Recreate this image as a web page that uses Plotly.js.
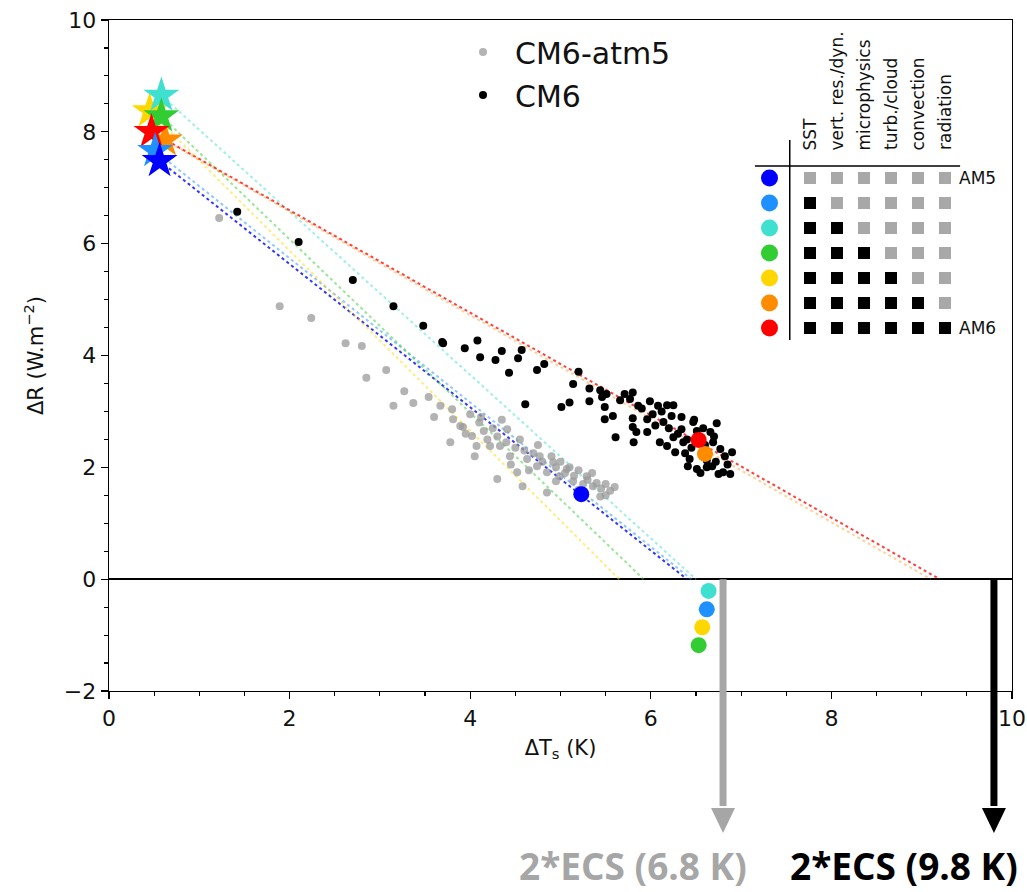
<!DOCTYPE html>
<html><head><meta charset="utf-8">
<script src="https://cdn.plot.ly/plotly-3.0.1.min.js"></script>
<style>html,body{margin:0;padding:0;background:#fff}</style>
</head><body><div id="chart" style="width:1027px;height:892px"></div>
<script>
// ---------- data ----------
const configColors = ['#0000ff','#1e90ff','#40e0d0','#32cd32','#ffd700','#ff8c00','#ff0000'];
const columnLabels = ['SST','vert. res./dyn.','microphysics','turb./cloud','convection','radiation'];
const switchMatrix = [
  [0,0,0,0,0,0],
  [1,0,0,0,0,0],
  [1,1,0,0,0,0],
  [1,1,1,0,0,0],
  [1,1,1,1,0,0],
  [1,1,1,1,1,0],
  [1,1,1,1,1,1]
];
const rowEndLabels = ['AM5','','','','','','AM6'];
// first-year stars (ΔTs, ΔR)
const starX = [0.56, 0.51, 0.58, 0.58, 0.45, 0.62, 0.47];
const starY = [7.48, 7.66, 8.65, 8.28, 8.37, 7.85, 8.00];
// end-of-run dots
const endX = [5.23, 6.62, 6.64, 6.53, 6.57, 6.60, 6.53];
const endY = [1.52, -0.54, -0.21, -1.18, -0.86, 2.24, 2.49];
// regression x-intercepts (ΔR = 0)
const interceptX = [6.40, 6.45, 6.50, 5.92, 5.65, 9.10, 9.20];
const lineOpacity = [0.8, 0.5, 0.5, 0.5, 0.5, 0.4, 0.75];
const starDrawOrder = [5, 4, 2, 3, 6, 1, 0];
// CM6-atm5 annual means
const atm5X = [1.22,1.89,2.24,2.62,2.80,3.07,2.85,3.27,3.15,3.37,3.54,3.67,3.80,3.92,3.78,4.02,4.05,4.22,4.30,3.81,3.89,4.07,4.19,4.33,4.41,4.44,4.52,4.63,4.74,4.77,4.85,4.92,4.99,5.07,5.14,5.29,5.36,5.44,4.58,4.85,
  4.00,4.10,4.15,4.25,4.30,4.40,4.50,4.55,4.60,4.70,4.75,4.80,4.90,4.95,5.00,5.05,5.10,5.15,5.20,5.25,5.30,5.35,5.40,5.45,5.50,5.55,5.60,5.20,4.95,4.65,4.45,3.95,4.12,3.60,4.35,5.50];
const atm5Y = [6.46,4.88,4.67,4.22,4.17,3.74,3.60,3.36,3.10,3.15,3.26,3.10,3.04,2.72,2.45,2.56,2.20,2.38,1.79,2.86,2.74,2.38,2.50,2.38,2.68,2.20,1.91,2.15,2.02,2.20,1.91,2.09,1.84,1.97,1.75,1.84,1.66,1.48,1.66,1.55,
  2.95,2.80,2.65,2.70,2.55,2.45,2.35,2.50,2.30,2.25,2.40,2.10,2.20,2.00,2.10,1.90,2.00,1.85,1.95,1.70,1.78,1.90,1.72,1.62,1.70,1.58,1.65,1.60,1.75,1.95,2.05,2.60,2.90,2.90,2.85,1.50];
// CM6 annual means
const cm6X = [1.42,2.10,2.70,3.15,3.48,3.69,3.70,3.94,4.08,4.11,4.28,4.35,4.53,4.57,4.43,4.74,4.82,4.61,5.20,5.14,5.01,5.10,5.32,5.44,5.32,5.46,5.51,5.49,5.49,5.58,5.61,5.71,5.80,5.77,5.86,5.80,5.80,5.84,5.81,5.96,5.96,5.99,6.08,6.02,6.18,6.25,6.23,6.14,6.10,6.18,6.25,6.34,6.34,6.27,6.40,6.47,6.51,6.43,6.41,6.51,6.66,6.73,6.69,6.77,6.68,6.82,6.90,6.80,6.88,6.75,6.62,6.54,6.36,
  6.05,6.30,6.45,6.58,6.62,6.70,6.85,6.55,6.38,6.20,6.12,5.90,5.66,6.60,6.72,6.48];
const cm6Y = [6.57,6.03,5.35,4.88,4.53,4.24,4.22,4.13,4.27,3.97,3.92,4.08,3.95,4.10,3.69,3.74,3.85,3.13,3.71,3.49,3.08,3.16,3.41,3.38,3.18,3.26,3.31,3.08,2.86,2.92,2.54,3.31,3.34,3.22,3.10,2.88,2.72,2.63,2.45,2.86,2.63,3.18,3.10,2.95,3.11,3.11,2.92,2.81,2.45,2.38,2.54,2.90,2.68,2.27,2.50,2.81,2.65,2.15,2.02,1.97,2.63,2.79,2.45,2.33,2.02,2.20,2.27,1.91,1.88,1.88,2.00,2.50,2.45,
  2.75,2.60,2.35,2.70,2.12,2.55,2.05,1.90,2.25,2.70,3.00,3.05,3.20,2.40,2.10,2.85];
// 2*ECS estimates
const ecsValues = [6.8, 9.8];
const ecsColors = ['#a6a6a6', '#000000'];

// ---------- geometry helpers ----------
const xRange = [0, 10], yRange = [-2, 10];
const plotTopPx = 20, plotBotPx = 691, plotH = plotBotPx - plotTopPx;
const pxToPaperY = p => (plotBotPx - p) / plotH;
const zeroPaper = (0 - yRange[0]) / (yRange[1] - yRange[0]);

const traces = [];
// regression lines
configColors.forEach((c, i) => {
  traces.push({x: [starX[i], interceptX[i]], y: [starY[i], 0], mode: 'lines', type: 'scatter',
    line: {color: c, dash: 'dot', width: 2}, opacity: lineOpacity[i], showlegend: false, hoverinfo: 'skip'});
});
traces.push({x: atm5X, y: atm5Y, mode: 'markers', type: 'scatter', name: 'CM6-atm5', legendgroup: 'a',
  marker: {color: '#999999', size: 8, opacity: 0.75}});
traces.push({x: cm6X, y: cm6Y, mode: 'markers', type: 'scatter', name: 'CM6', legendgroup: 'b',
  marker: {color: '#000000', size: 8}});
traces.push({x: endX, y: endY, mode: 'markers', type: 'scatter', showlegend: false,
  marker: {color: configColors, size: 16}});
traces.push({x: starDrawOrder.map(i => starX[i]), y: starDrawOrder.map(i => starY[i]), mode: 'markers', type: 'scatter', showlegend: false,
  marker: {symbol: 'star', color: starDrawOrder.map(i => configColors[i]), size: 27, line: {width: 0}}});

// inset table
const sqX = [], sqY = [], sqC = [];
switchMatrix.forEach((row, r) => row.forEach((v, c) => { sqX.push(c + 1); sqY.push(r); sqC.push(v ? '#000000' : '#a8a8a8'); }));
traces.push({x: configColors.map(() => -0.5), y: configColors.map((_, r) => r), xaxis: 'x2', yaxis: 'y2',
  mode: 'markers', type: 'scatter', showlegend: false, marker: {color: configColors, size: 17}});
traces.push({x: sqX, y: sqY, xaxis: 'x2', yaxis: 'y2', mode: 'markers', type: 'scatter', showlegend: false,
  marker: {symbol: 'square', color: sqC, size: 12}});

const font = 'DejaVu Sans, sans-serif';
const annotations = [];
columnLabels.forEach((t, c) => annotations.push({text: t, x: c + 1, y: -1.04, xref: 'x2', yref: 'y2',
  textangle: -90, xanchor: 'center', yanchor: 'bottom', showarrow: false, font: {family: font, size: 17, color: '#111'}}));
rowEndLabels.forEach((t, r) => { if (t) annotations.push({text: t, x: 6.45, y: r, xref: 'x2', yref: 'y2',
  xanchor: 'left', yanchor: 'middle', showarrow: false, font: {family: font, size: 17, color: '#111'}}); });
ecsValues.forEach((v, i) => annotations.push({text: '<b>2*ECS (' + v.toFixed(1) + ' K)</b>', x: v, xref: 'x',
  y: pxToPaperY(892), yref: 'paper', xanchor: 'right', yanchor: 'bottom', xshift: 25, borderpad: 0, showarrow: false,
  font: {family: 'Open Sans, sans-serif', size: 37, color: ecsColors[i]}}));

const shapes = [
  {type: 'line', xref: 'x2', yref: 'y2', x0: 0.25, x1: 0.25, y0: -1.52, y1: 6.48, line: {color: '#000', width: 1.5}},
  {type: 'line', xref: 'x2', yref: 'y2', x0: -1.04, x1: 6.56, y0: -0.48, y1: -0.48, line: {color: '#000', width: 1.5}}
];
const headHalf = 12 * (xRange[1] - xRange[0]) / 903;
ecsValues.forEach((v, i) => {
  const yb = pxToPaperY(808), yt = pxToPaperY(833);
  shapes.push({type: 'line', xref: 'x', yref: 'paper', x0: v, x1: v, y0: zeroPaper, y1: yb + 0.003,
    line: {color: ecsColors[i], width: 7}, layer: 'above'});
  shapes.push({type: 'path', xref: 'x', yref: 'paper', path: `M ${v - headHalf},${yb} L ${v + headHalf},${yb} L ${v},${yt} Z`,
    fillcolor: ecsColors[i], line: {width: 0}, layer: 'above'});
});

const axisCommon = {showline: true, linecolor: '#000', linewidth: 1.3, mirror: true, ticks: 'outside', ticklen: 7,
  tickwidth: 1.3, tickcolor: '#000', showgrid: false, tickfont: {family: font, size: 22, color: '#111'},
  minor: {ticks: 'outside', ticklen: 4, tickwidth: 1.1, tickcolor: '#000', dtick: 0.5, showgrid: false}};

const layout = {
  width: 1027, height: 892, margin: {l: 109, r: 15, t: 20, b: 201},
  paper_bgcolor: '#fff', plot_bgcolor: '#fff',
  xaxis: Object.assign({}, axisCommon, {range: xRange, dtick: 2, tick0: 0, zeroline: false,
    title: {text: 'ΔT<sub>s</sub> (K)', font: {family: font, size: 21, color: '#111'}, standoff: 10}}),
  yaxis: Object.assign({}, axisCommon, {range: yRange, dtick: 2, tick0: 0, zeroline: true, zerolinecolor: '#000', zerolinewidth: 1.6,
    title: {text: 'ΔR (W.m<sup>−2</sup>)', font: {family: font, size: 21, color: '#111'}, standoff: 14}}),
  xaxis2: {domain: [0.6866, 0.9856], range: [-2, 8], visible: false, anchor: 'y2', fixedrange: true},
  yaxis2: {domain: [0.5037, 0.8763], range: [7, -3], visible: false, anchor: 'x2', fixedrange: true},
  showlegend: true,
  legend: {x: (451 - 109) / 903, y: pxToPaperY(26), xanchor: 'left', yanchor: 'top', bgcolor: 'rgba(0,0,0,0)',
    itemwidth: 54, font: {family: font, size: 30, color: '#111'}, tracegroupgap: 1},
  annotations: annotations, shapes: shapes
};
Plotly.newPlot('chart', traces, layout, {displayModeBar: false, staticPlot: true});
</script></body></html>
